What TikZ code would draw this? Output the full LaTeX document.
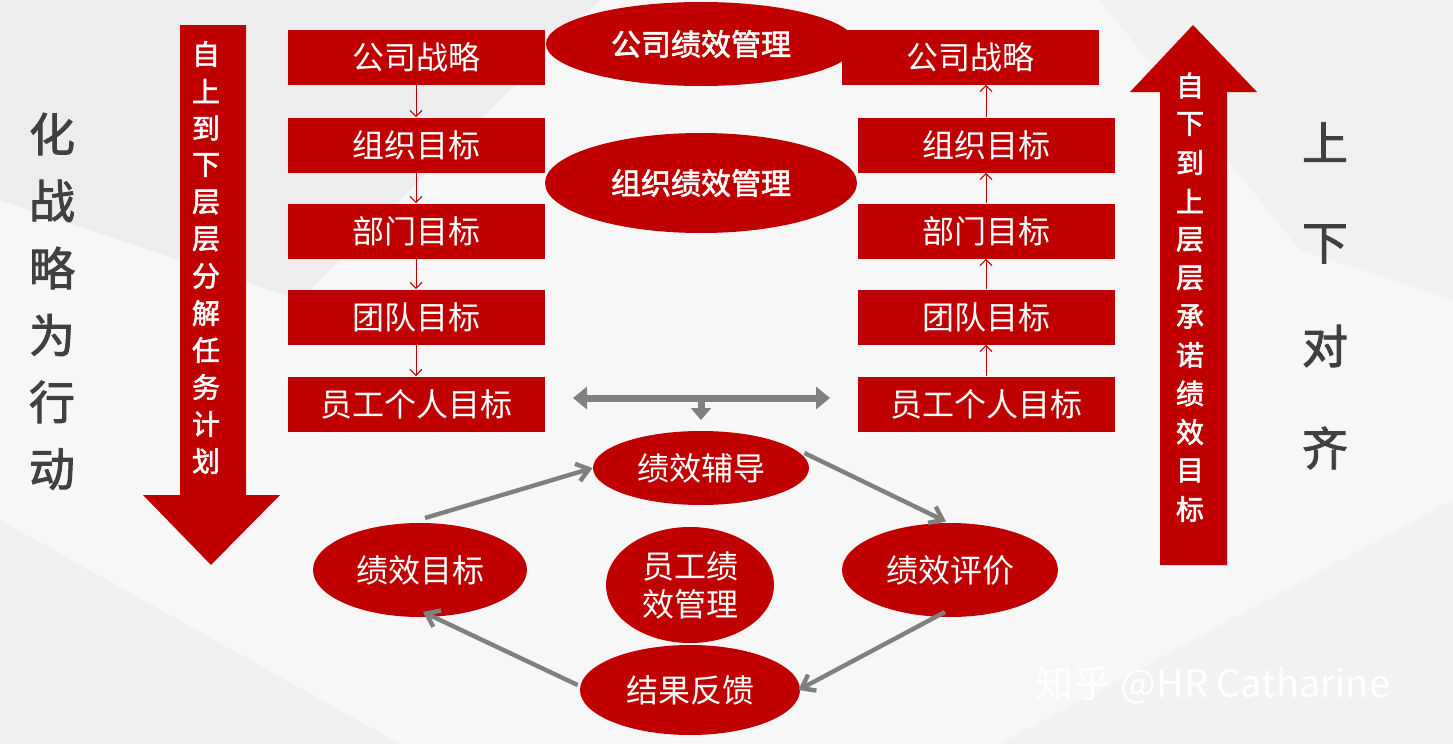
\documentclass[tikz,border=0pt]{standalone}
\usepackage{fontspec}
\setmainfont{Noto Sans CJK SC}
\newfontfamily\cjkb[FakeBold=2]{Noto Sans CJK SC}
\definecolor{rd}{HTML}{C00000}
\definecolor{gr}{HTML}{808080}
\definecolor{dk}{HTML}{404040}
\begin{document}
\begin{tikzpicture}[x=0.5pt,y=-0.5pt,
  box/.style={fill=rd,text=white,minimum width=128.5pt,minimum height=27.5pt,inner sep=0pt,font=\fontsize{16}{16}\selectfont},
  ell/.style={ellipse,fill=rd,text=white,inner sep=0pt,font=\fontsize{16}{16}\selectfont},
  sm/.style={draw=rd,line width=0.5pt,-{Straight Barb[length=3pt]}},
  ga/.style={draw=gr,line width=2.2pt,-{Straight Barb[length=6pt,width=9pt]}}]
\usetikzlibrary{shapes.geometric,arrows.meta}
\fill[gray!6] (0,0) rectangle (1453,744);
\fill[gray!14] (0,0) -- (600,0) -- (300,300) -- (0,200) -- cycle;
\fill[gray!11] (1453,0) -- (1100,0) -- (1300,250) -- (1453,300) -- cycle;
\fill[gray!12] (0,520) -- (400,744) -- (0,744) -- cycle;
\fill[gray!10] (1000,744) -- (1453,500) -- (1453,744) -- cycle;
\useasboundingbox (0,0) rectangle (1453,744);
% left boxes
\node[box] (l1) at (416,57) {公司战略};
\node[box] (l2) at (416,145) {组织目标};
\node[box] (l3) at (416,231) {部门目标};
\node[box] (l4) at (416,317) {团队目标};
\node[box] (l5) at (416,404) {员工个人目标};
\node[box] (r1) at (970,57) {公司战略};
\node[box] (r2) at (986,145) {组织目标};
\node[box] (r3) at (986,231) {部门目标};
\node[box] (r4) at (986,317) {团队目标};
\node[box] (r5) at (986,404) {员工个人目标};
\foreach \a/\b in {l1/l2,l2/l3,l3/l4,l4/l5}{\draw[sm] (\a.south) -- (\b.north);}
\draw[sm] (r2.north) -- (r2.north|-r1.south);
\foreach \a/\b in {r5/r4,r4/r3,r3/r2}{\draw[sm] (\a.north) -- (\b.south);}
\node[ell,minimum width=155pt,minimum height=42pt,font=\cjkb\fontsize{15}{15}\selectfont] (e1) at (701,44) {公司绩效管理};
\node[ell,minimum width=156pt,minimum height=50pt,font=\cjkb\fontsize{15}{15}\selectfont] (e2) at (701,183) {组织绩效管理};
% big arrows
\fill[rd] (180,25) -- (246,25) -- (246,495) -- (280,495) -- (211,565) -- (143,495) -- (180,495) -- cycle;
\fill[rd] (1193,25) -- (1257,92) -- (1227,92) -- (1227,565) -- (1160,565) -- (1160,92) -- (1130,92) -- cycle;
\foreach \c [count=\i] in {自,上,到,下,层,层,分,解,任,务,计,划}{\node[text=white,font=\cjkb\fontsize{14}{14}\selectfont] (lt\i) at (206,17+37*\i) {\c};}
\foreach \c [count=\i] in {自,下,到,上,层,层,承,诺,绩,效,目,标}{\node[text=white,font=\cjkb\fontsize{14}{14}\selectfont] (rt\i) at (1190,47+38.5*\i) {\c};}
\foreach \c [count=\i] in {化,战,略,为,行,动}{\node[text=dk,font=\cjkb\fontsize{23}{23}\selectfont] (lw\i) at (52,67+67*\i) {\c};}
\foreach \c [count=\i] in {上,下,对,齐}{\node[text=dk,font=\cjkb\fontsize{23}{23}\selectfont] (rw\i) at (1325,40+102*\i) {\c};}
% gray double arrow
\coordinate (ga1) at (573,398); \coordinate (ga2) at (830,398); \coordinate (gm) at (701,398); \coordinate (gd) at (701,420);
\draw[draw=gr,line width=3.5pt,{Triangle[length=7pt,width=11pt]}-{Triangle[length=7pt,width=11pt]}] (ga1) -- (ga2);
\draw[draw=gr,line width=3.5pt,-{Triangle[length=6pt,width=10pt]}] (gm) -- (gd);
% cycle
\node[ell,minimum width=108pt,minimum height=37pt] (c1) at (701,468) {绩效辅导};
\node[ell,minimum width=107pt,minimum height=47pt] (c2) at (420,570) {绩效目标};
\node[ell,minimum width=84pt,minimum height=58pt,align=center,font=\fontsize{16}{19}\selectfont] (c0) at (690,585) {员工绩\\效管理};
\node[ell,minimum width=108pt,minimum height=47pt] (c3) at (950,570) {绩效评价};
\node[ell,minimum width=110pt,minimum height=45pt] (c4) at (690,690) {结果反馈};
\draw[ga] ([shift={(5,-52)}]c2.center) -- (c1.west);
\draw[ga] ([shift={(-5,-15)}]c1.east) -- ([shift={(-4,-1)}]c3.north);
\draw[ga] ([shift={(-5,42)}]c3.center) -- ([shift={(-2,0)}]c4.east);
\draw[ga] ([shift={(-2,-5)}]c4.west) -- ([shift={(3,42)}]c2.center);
\node[text=white,font=\fontsize{19}{19}\selectfont] (wm) at (1213,685) {知乎 @HR Catharine};
\end{tikzpicture}
\end{document}
